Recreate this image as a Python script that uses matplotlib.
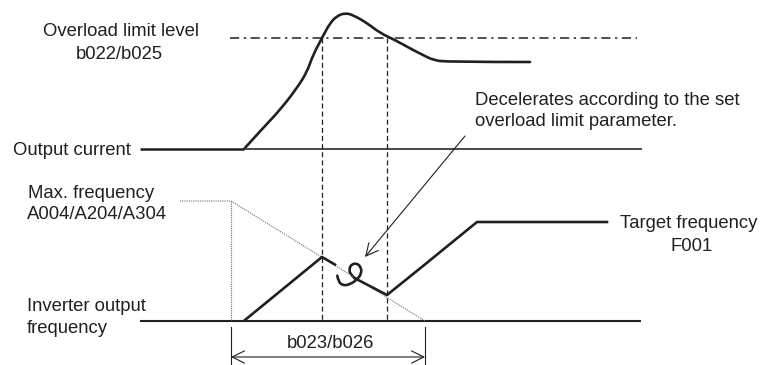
import numpy as np
import matplotlib.pyplot as plt
from matplotlib.path import Path
from matplotlib.patches import PathPatch

plt.rcParams['font.family'] = ['Liberation Sans', 'DejaVu Sans']

INK = '#231f20'
GREY = '#6d6e71'

# output current curve (pixel coords of the original drawing)
cur_x = [244, 263, 280, 297, 307, 313, 322, 330, 337, 345, 353, 367, 380, 395, 413, 423, 433, 447, 530]
cur_y = [149, 128, 110, 88, 72, 55, 38, 23, 16, 13, 15, 23, 33, 40, 50, 55, 60, 62, 62]

# output frequency: accel, start of decel
frq_x1 = [245, 322, 335]
frq_y1 = [320, 257, 264.6]
# loop mark drawn on the decel ramp
loop_x = [337.3, 338.3, 343.3, 350, 356.7, 361.7, 360.7, 356.7, 351.7, 349.3, 350, 355]
loop_y = [275.7, 281.7, 285.7, 284.3, 280, 273.3, 266.7, 263.3, 264.3, 268.3, 274.3, 278.3]
# rest of decel, re-accel to target
frq_x2 = [355, 387, 423, 477, 607]
frq_y2 = [278.3, 295, 266, 222, 222]

# max frequency reference (dotted)
maxf_x = [180, 231, 425]
maxf_y = [201, 201, 321]

limit_y = 38
limit_x = [230, 637]
t_marks = [322, 387]
cur_base = 149
frq_base = 320.7
span = [231, 425]


def smooth_path(xs, ys):
    # quadratic bezier pieces through the midpoints of the read points
    pts = np.column_stack([xs, ys])
    verts = [pts[0]]
    codes = [Path.MOVETO]
    for i in range(1, len(pts) - 1):
        end = pts[i + 1] if i == len(pts) - 2 else (pts[i] + pts[i + 1]) / 2
        verts += [pts[i], end]
        codes += [Path.CURVE3, Path.CURVE3]
    if len(pts) == 2:
        verts.append(pts[1])
        codes.append(Path.LINETO)
    return Path(verts, codes)


fig = plt.figure(figsize=(7.61, 3.65), dpi=100)
ax = fig.add_axes([0, 0, 1, 1])
ax.set_xlim(0, 761)
ax.set_ylim(365, 0)
ax.axis('off')

# baselines
ax.plot([140, 244], [cur_base, cur_base], color=INK, lw=1.8, solid_capstyle='butt')
ax.plot([244, 642], [cur_base, cur_base], color='#3a3a3a', lw=1.3, solid_capstyle='butt')
ax.plot([140, 641], [frq_base, frq_base], color=INK, lw=1.5, solid_capstyle='butt')

# overload limit level
ax.plot(limit_x, [limit_y, limit_y], color=INK, lw=1.1, dashes=(6, 3, 1.5, 3))

# time marks
for t in t_marks:
    ax.plot([t, t], [limit_y, frq_base], color=INK, lw=0.9, dashes=(4, 2.5))

# dotted max frequency line
ax.plot(maxf_x, maxf_y, color=GREY, lw=0.8, ls=(0, (1, 1)))
ax.plot([maxf_x[1], maxf_x[1]], [maxf_y[1], frq_base], color=GREY, lw=0.8, ls=(0, (1, 1)))

# curves
ax.add_patch(PathPatch(smooth_path(cur_x, cur_y), fc='none', ec=INK, lw=1.9, capstyle='round'))
ax.plot(frq_x1, frq_y1, color=INK, lw=1.9)
ax.add_patch(PathPatch(smooth_path(loop_x, loop_y), fc='none', ec=INK, lw=1.9, capstyle='round'))
ax.plot(frq_x2, frq_y2, color=INK, lw=1.9)

# b023/b026 span
for s in span:
    ax.plot([s, s], [327, 365], color=INK, lw=0.8)
ax.annotate('', xy=(span[0], 357), xytext=(span[1], 357),
            arrowprops=dict(arrowstyle='<->', color=INK, lw=0.8, mutation_scale=22,
                            shrinkA=0, shrinkB=0))

# pointer arrow
ax.annotate('', xy=(365, 257), xytext=(465, 136),
            arrowprops=dict(arrowstyle='->', color=INK, lw=0.8, mutation_scale=22,
                            shrinkA=0, shrinkB=0))

fs = 13.3
txt = dict(fontsize=fs, color=INK, va='baseline')
ax.text(121, 36, 'Overload limit level', ha='center', **txt)
ax.text(119, 59, 'b022/b025', ha='center', **txt)
ax.text(13, 155, 'Output current', ha='left', **txt)
ax.text(475, 105, 'Decelerates according to the set', ha='left', **txt)
ax.text(475, 126, 'overload limit parameter.', ha='left', **txt)
ax.text(28, 198, 'Max. frequency', ha='left', **txt)
ax.text(27, 219, 'A004/A204/A304', ha='left', **txt)
ax.text(689, 228, 'Target frequency', ha='center', **txt)
ax.text(692, 251, 'F001', ha='center', **txt)
ax.text(27, 311, 'Inverter output', ha='left', **txt)
ax.text(27, 333, 'frequency', ha='left', **txt)
ax.text(330, 348, 'b023/b026', ha='center', **txt)

fig.savefig('out.png', dpi=100)
